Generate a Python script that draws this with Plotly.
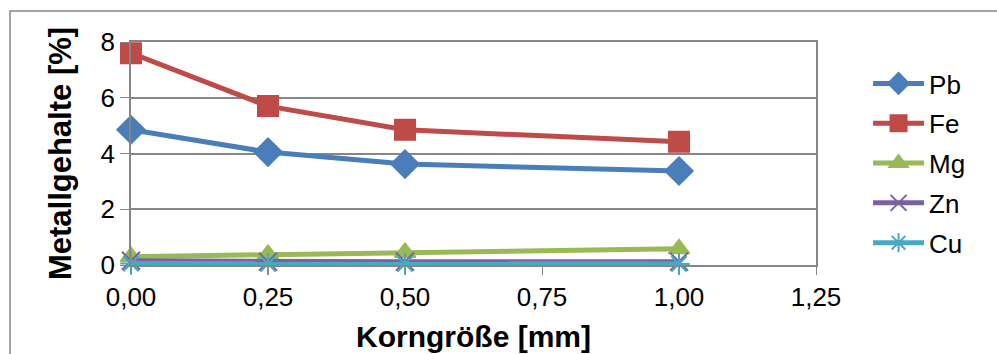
import plotly.graph_objects as go

# Data
korngroesse = [0.0, 0.25, 0.5, 1.0]
series_names = ["Pb", "Fe", "Mg", "Zn", "Cu"]
pb = [4.85, 4.05, 3.62, 3.37]
fe = [7.60, 5.70, 4.85, 4.42]
mg = [0.30, 0.38, 0.45, 0.58]
zn = [0.15, 0.12, 0.12, 0.12]
cu = [0.05, 0.04, 0.04, 0.04]
x_tickvals = [0, 0.25, 0.5, 0.75, 1.0, 1.25]
x_ticktext = ["0,00", "0,25", "0,50", "0,75", "1,00", "1,25"]
y_tickvals = [0, 2, 4, 6, 8]

values = [pb, fe, mg, zn, cu]
colors = ["#4A7EBB", "#BE4B48", "#98B954", "#7D60A0", "#46AAC5"]
symbols = ["diamond", "square", "triangle-up", "x-thin-open", "asterisk-open"]
msizes = [21, 20, 18, 18, 18]

FONT = "Liberation Sans, Arial, sans-serif"

fig = go.Figure()
for name, vals, c, s, ms in zip(series_names, values, colors, symbols, msizes):
    fig.add_trace(go.Scatter(
        x=korngroesse, y=vals, name=name, mode="lines+markers",
        legendgroup=name,
        line=dict(color=c, width=5),
        marker=dict(symbol=s, size=ms, color=c, line=dict(color=c, width=2)),
        cliponaxis=False,
    ))

L, R, T, B = 131, 181, 42, 89
W, H = 997, 354
pw = W - L - R
ph = H - T - B

fig.update_layout(
    width=W, height=H,
    margin=dict(l=L, r=R, t=T, b=B, autoexpand=False),
    paper_bgcolor="white", plot_bgcolor="white",
    font=dict(family=FONT, size=26, color="black"),
    showlegend=True,
    legend=dict(x=1.076, xanchor="left", xref="paper", y=0.455, yanchor="middle",
                font=dict(size=26), tracegroupgap=3, itemwidth=51,
                bgcolor="rgba(0,0,0,0)"),
    xaxis=dict(
        range=[0, 1.25], tickvals=x_tickvals, ticktext=x_ticktext,
        showgrid=False, zeroline=False, automargin=False,
        showline=True, linecolor="#868686", linewidth=1.5, mirror=True,
        ticks="outside", ticklen=8, tickcolor="#868686",
        tickfont=dict(size=26),
        title=dict(text="<b>Korngröße [mm]</b>", font=dict(size=30), standoff=15),
    ),
    yaxis=dict(
        range=[0, 8], tickvals=y_tickvals,
        showgrid=True, gridcolor="#868686", gridwidth=1.5, zeroline=False, automargin=False,
        showline=True, linecolor="#868686", linewidth=1.5, mirror=True,
        ticks="outside", ticklen=9, tickcolor="#868686",
        tickfont=dict(size=26),
        title=dict(text="<b>Metallgehalte [%]</b>", font=dict(size=31), standoff=20),
    ),
    shapes=[dict(
        type="rect", xref="paper", yref="paper",
        x0=(10 - L) / pw, x1=(W + 5 - L) / pw,
        y0=(ph + T - (H + 5)) / ph, y1=(ph + T - 11) / ph,
        line=dict(color="#868686", width=1.5), fillcolor="rgba(0,0,0,0)",
        layer="below",
    )],
)

fig.write_html("out.html")
